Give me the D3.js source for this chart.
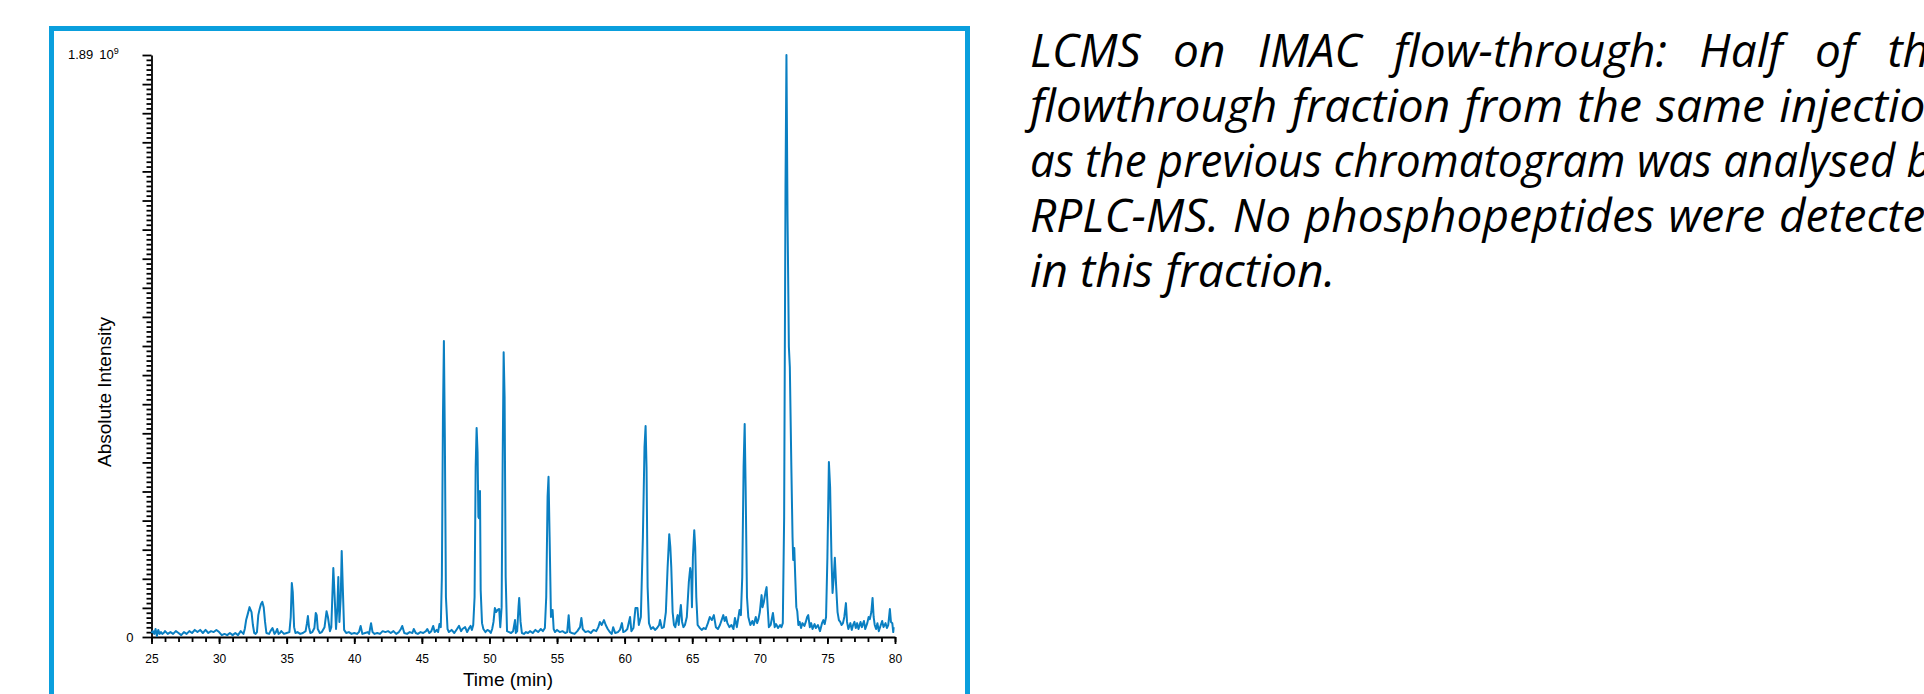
<!DOCTYPE html>
<html lang="en">
<head>
<meta charset="UTF-8">
<script src="https://d3js.org/d3.v7.min.js"></script>
<title>LCMS on IMAC flow-through</title>
<style>
  html, body { margin: 0; padding: 0; overflow: hidden; background: #fff; }
  svg { display: block; }
  .tick text { font-family: "Liberation Sans", Arial, sans-serif; }
</style>
</head>
<body>
<script>
// chromatogram trace: [time (min), intensity (x10^7 counts)]
const trace = [
  [25.0,1.3],[25.1,1.9],[25.2,1.0],[25.3,2.6],[25.4,0.3],[25.5,2.3],[25.6,1.0],[25.7,1.6],[25.8,1.0],[25.9,1.3],
  [26.0,1.9],[26.2,1.0],[26.4,1.6],[26.6,1.0],[26.8,1.9],[27.0,1.3],[27.2,0.6],[27.4,1.6],[27.6,1.0],[27.8,1.9],
  [28.0,1.3],[28.2,2.3],[28.4,1.6],[28.6,2.3],[28.8,1.3],[29.0,2.3],[29.2,1.3],[29.4,1.9],[29.6,1.6],[29.8,2.3],
  [30.0,1.6],[30.2,0.6],[30.4,1.0],[30.6,0.6],[30.8,1.3],[31.0,0.6],[31.2,1.3],[31.4,0.6],[31.6,1.9],[31.8,1.0],
  [31.9,2.6],[32.0,5.5],[32.1,7.1],[32.25,9.7],[32.4,8.1],[32.5,3.9],[32.6,1.3],[32.7,1.0],[32.8,1.6],[32.9,7.1],
  [33.0,9.1],[33.1,10.7],[33.2,11.4],[33.3,9.7],[33.4,4.9],[33.5,1.3],[33.7,1.0],[33.8,1.9],[33.95,2.9],[34.1,1.0],
  [34.2,1.6],[34.3,2.6],[34.4,1.0],[34.5,1.3],[34.6,1.9],[34.8,1.0],[35.0,1.3],[35.2,1.6],[35.3,6.5],[35.38,17.5],
  [35.45,14.6],[35.55,3.2],[35.65,1.3],[35.8,1.6],[36.0,1.0],[36.2,1.3],[36.4,1.9],[36.5,4.5],[36.57,6.8],[36.65,3.2],
  [36.75,1.3],[36.9,1.6],[37.05,2.9],[37.15,7.8],[37.22,7.1],[37.3,2.6],[37.45,1.3],[37.6,1.6],[37.8,3.2],[37.95,8.4],
  [38.05,6.5],[38.2,1.9],[38.3,3.2],[38.45,22.4],[38.55,13.0],[38.65,2.6],[38.75,9.7],[38.82,19.5],[38.9,4.9],[39.0,13.0],
  [39.07,27.9],[39.15,16.2],[39.25,2.3],[39.4,1.3],[39.6,1.6],[39.8,1.0],[40.0,1.3],[40.2,1.0],[40.35,1.6],[40.47,3.6],
  [40.6,1.0],[40.8,1.3],[41.0,1.6],[41.1,1.0],[41.24,4.5],[41.35,1.6],[41.5,1.0],[41.7,1.3],[41.9,1.0],[42.1,1.9],
  [42.3,1.6],[42.5,1.9],[42.7,1.3],[42.9,1.9],[43.1,1.0],[43.3,1.6],[43.45,2.6],[43.55,3.6],[43.7,1.3],[43.9,1.0],
  [44.1,1.6],[44.3,1.3],[44.4,2.6],[44.55,1.3],[44.7,1.0],[44.9,1.6],[45.1,1.3],[45.3,1.9],[45.4,2.6],[45.55,1.3],
  [45.7,1.9],[45.84,3.6],[45.95,1.6],[46.1,2.3],[46.2,1.6],[46.3,4.2],[46.4,3.2],[46.48,19.5],[46.56,71.4],[46.63,96.1],
  [46.7,64.9],[46.78,13.0],[46.9,2.6],[47.0,1.6],[47.2,2.3],[47.4,1.3],[47.6,2.6],[47.75,3.6],[47.9,1.9],[48.0,2.6],
  [48.2,3.2],[48.35,1.6],[48.5,2.9],[48.6,3.6],[48.7,2.3],[48.8,3.9],[48.9,13.0],[48.98,55.2],[49.05,67.9],[49.12,60.1],
  [49.18,39.0],[49.22,38.6],[49.3,47.4],[49.35,15.3],[49.45,4.5],[49.55,2.6],[49.7,1.6],[49.85,2.3],[50.0,1.9],[50.1,1.3],
  [50.2,2.6],[50.3,4.9],[50.4,9.4],[50.5,8.1],[50.6,8.8],[50.72,9.1],[50.8,3.2],[50.9,9.7],[50.98,58.5],[51.05,92.5],
  [51.12,77.9],[51.2,19.5],[51.3,1.9],[51.45,1.6],[51.6,1.3],[51.75,1.9],[51.89,5.5],[51.95,1.3],[52.05,1.9],[52.15,9.7],
  [52.2,12.7],[52.3,4.9],[52.4,1.3],[52.55,1.0],[52.7,1.6],[52.85,1.3],[53.0,1.9],[53.2,1.3],[53.4,2.3],[53.6,1.6],
  [53.8,2.6],[53.95,1.9],[54.1,2.9],[54.2,13.0],[54.3,45.5],[54.37,52.0],[54.45,32.5],[54.55,6.5],[54.67,8.8],[54.75,2.6],
  [54.85,1.6],[55.0,2.3],[55.2,1.6],[55.4,1.9],[55.6,1.3],[55.75,1.6],[55.86,7.1],[55.95,1.6],[56.1,1.3],[56.3,1.0],
  [56.5,1.9],[56.7,3.2],[56.8,6.2],[56.9,2.6],[57.1,1.6],[57.3,1.9],[57.5,1.3],[57.7,2.3],[57.9,1.9],[58.05,3.2],
  [58.17,4.9],[58.3,3.9],[58.47,5.5],[58.6,3.9],[58.75,2.6],[58.9,1.6],[59.05,1.0],[59.15,3.2],[59.3,1.3],[59.5,1.6],
  [59.65,2.3],[59.8,4.5],[59.9,1.6],[60.05,1.9],[60.2,2.6],[60.4,6.5],[60.5,1.9],[60.65,2.9],[60.8,9.4],[60.95,9.4],
  [61.05,3.9],[61.2,6.5],[61.35,32.5],[61.47,61.7],[61.55,68.5],[61.62,55.2],[61.7,16.2],[61.8,4.5],[61.95,2.6],[62.1,3.2],
  [62.25,2.3],[62.4,2.9],[62.55,3.9],[62.62,5.5],[62.75,2.9],[62.9,3.2],[63.05,8.1],[63.18,22.7],[63.3,33.4],[63.38,29.2],
  [63.45,22.7],[63.55,8.1],[63.65,3.9],[63.75,3.2],[63.85,5.8],[63.92,7.1],[64.0,3.9],[64.1,8.1],[64.16,10.4],[64.25,4.9],
  [64.35,3.2],[64.46,3.9],[64.6,6.5],[64.75,17.9],[64.85,22.4],[64.93,19.5],[64.98,9.7],[65.05,26.0],[65.15,34.7],[65.22,29.2],
  [65.3,13.0],[65.4,3.9],[65.57,2.9],[65.7,2.3],[65.85,2.9],[66.0,2.6],[66.16,4.5],[66.3,6.5],[66.45,5.5],[66.6,7.1],
  [66.75,3.2],[66.9,2.6],[67.05,3.9],[67.2,5.8],[67.3,7.1],[67.4,5.2],[67.5,6.5],[67.6,4.5],[67.75,3.2],[67.9,3.9],
  [68.05,2.6],[68.16,6.2],[68.3,3.2],[68.42,6.5],[68.5,8.8],[68.6,7.1],[68.7,19.5],[68.8,55.2],[68.88,69.2],[68.95,48.7],
  [69.05,13.0],[69.15,6.5],[69.3,3.9],[69.45,5.2],[69.55,3.9],[69.7,6.5],[69.8,4.5],[69.9,5.8],[70.0,8.1],[70.13,13.6],
  [70.2,9.7],[70.3,11.4],[70.42,14.6],[70.5,16.2],[70.58,9.7],[70.67,3.2],[70.8,3.9],[70.97,7.8],[71.1,3.2],[71.2,4.2],
  [71.35,2.9],[71.5,3.9],[71.6,3.2],[71.7,4.5],[71.8,39.0],[71.9,146.1],[71.97,189.0],[72.05,136.4],[72.15,94.2],[72.22,87.7],
  [72.33,55.9],[72.42,32.5],[72.47,25.0],[72.55,28.9],[72.62,19.5],[72.7,9.7],[72.77,8.4],[72.85,3.9],[72.95,4.9],[73.05,2.9],
  [73.15,4.5],[73.3,3.6],[73.4,4.9],[73.5,6.5],[73.58,7.1],[73.7,3.2],[73.8,4.5],[73.9,2.6],[74.05,4.2],[74.15,2.9],
  [74.3,3.9],[74.45,1.9],[74.6,4.5],[74.7,5.5],[74.8,4.2],[74.9,6.5],[75.0,26.0],[75.11,56.8],[75.2,48.7],[75.3,26.0],
  [75.38,14.3],[75.47,19.5],[75.55,25.7],[75.65,16.2],[75.75,8.1],[75.85,5.5],[75.95,4.9],[76.05,3.9],[76.15,4.5],[76.25,6.5],
  [76.37,11.0],[76.45,4.9],[76.55,2.6],[76.7,4.5],[76.8,2.3],[76.9,3.9],[77.0,4.9],[77.1,2.9],[77.2,4.5],[77.3,2.6],
  [77.45,4.9],[77.55,3.2],[77.7,5.2],[77.8,2.6],[77.95,4.5],[78.05,6.5],[78.14,5.8],[78.25,8.1],[78.34,12.7],[78.42,6.5],
  [78.5,3.9],[78.6,2.6],[78.7,4.5],[78.8,1.9],[78.95,3.9],[79.05,5.2],[79.15,3.2],[79.3,4.5],[79.4,2.9],[79.5,3.9],
  [79.62,9.1],[79.7,4.9],[79.8,4.5],[79.87,1.6],[79.9,3.2]
];

const xLabels = [25, 30, 35, 40, 45, 50, 55, 60, 65, 70, 75, 80];
const yTop = 189;            // 1.89 x 10^9, in units of 10^7
const yTopLabel = "1.89";
const yTopExp = "9";
const captionLines = [
  "LCMS on IMAC flow-through: Half of the",
  "flowthrough fraction from the same injection",
  "as the previous chromatogram was analysed by",
  "RPLC-MS. No phosphopeptides were detected",
  "in this fraction."
];

const width = 1924;
const height = 694;
const plot = {left: 151.5, right: 895, top: 55, bottom: 637};

const svg = d3.select('body')
    .append('svg')
    .attr('width', width)
    .attr('height', height);

// blue frame around the chart (runs off the bottom)
svg.append('rect')
    .attr('x', 51.5)
    .attr('y', 28.5)
    .attr('width', 916)
    .attr('height', 720)
    .attr('fill', 'none')
    .attr('stroke', '#0a9fdd')
    .attr('stroke-width', 5);

const x = d3.scaleLinear()
    .domain([25, 80])
    .range([plot.left, plot.right]);

const y = d3.scaleLinear()
    .domain([0, yTop])
    .range([plot.bottom, plot.top]);

// x axis: minor ticks each minute, labelled every 5
svg.append('g')
    .attr('transform', `translate(0, ${plot.bottom})`)
    .call(d3.axisBottom(x).tickValues(d3.range(25, 81, 1)).tickSize(5).tickFormat(''))
    .call(g => g.select('.domain').remove());

svg.append('g')
    .attr('transform', `translate(0, ${plot.bottom})`)
    .call(d3.axisBottom(x).tickValues(xLabels).tickSize(7).tickPadding(10).tickSizeOuter(0))
    .call(g => g.selectAll('text').attr('font-size', 12).attr('fill', '#000'));

// y axis: 20 major divisions, 6 minor in each
const yTicks = d3.range(0, 121).map(i => i * yTop / 120);
svg.append('g')
    .attr('transform', `translate(${plot.left}, 0)`)
    .call(d3.axisLeft(y).tickValues(yTicks.filter((d, i) => i % 6 != 0)).tickSize(5).tickFormat(''))
    .call(g => g.select('.domain').remove());

svg.append('g')
    .attr('transform', `translate(${plot.left}, 0)`)
    .call(d3.axisLeft(y).tickValues(yTicks.filter((d, i) => i % 6 == 0)).tickSize(9).tickSizeOuter(0).tickFormat(''));

svg.selectAll('.domain, .tick line')
    .attr('stroke', '#000')
    .attr('stroke-width', 1.8);

svg.append('text')
    .attr('x', plot.left - 18)
    .attr('y', y(0) + 4.5)
    .attr('text-anchor', 'end')
    .attr('font-family', '"Liberation Sans", Arial, sans-serif')
    .attr('font-size', 13)
    .text('0');

const topLab = svg.append('text')
    .attr('x', 68)
    .attr('y', y(yTop) + 4)
    .attr('font-family', '"Liberation Sans", Arial, sans-serif')
    .attr('font-size', 13);
topLab.append('tspan').text(yTopLabel);
topLab.append('tspan').attr('dx', 6).text('10');
topLab.append('tspan').attr('dy', -5).attr('font-size', 9).text(yTopExp);

// axis titles
svg.append('text')
    .attr('transform', 'translate(111, 392) rotate(-90)')
    .attr('text-anchor', 'middle')
    .attr('font-family', '"Liberation Sans", Arial, sans-serif')
    .attr('font-size', 19)
    .text('Absolute Intensity');

svg.append('text')
    .attr('x', 508)
    .attr('y', 686)
    .attr('text-anchor', 'middle')
    .attr('font-family', '"Liberation Sans", Arial, sans-serif')
    .attr('font-size', 19)
    .text('Time (min)');

// the trace
const line = d3.line()
    .x(d => x(d[0]))
    .y(d => y(d[1]));

svg.append('path')
    .datum(trace)
    .attr('d', line)
    .attr('fill', 'none')
    .attr('stroke', '#0a7fc2')
    .attr('stroke-width', 2)
    .attr('stroke-linejoin', 'round');

// justified italic caption on the right
const capLeft = 1030;
const capWidth = 922;
captionLines.forEach((s, i) => {
    const t = svg.append('text')
        .attr('x', capLeft)
        .attr('y', 67 + i * 55)
        .attr('font-family', '"Open Sans", sans-serif')
        .attr('font-style', 'italic')
        .attr('font-weight', 400)
        .attr('font-size', 46)
        .text(s);
    if (i < captionLines.length - 1) {
        const w = t.node().getComputedTextLength();
        const gaps = s.split(' ').length - 1;
        if (w < capWidth) {
            t.attr('word-spacing', (capWidth - w) / gaps);
        } else {
            t.attr('textLength', capWidth).attr('lengthAdjust', 'spacingAndGlyphs');
        }
    }
});
</script>
</body>
</html>
